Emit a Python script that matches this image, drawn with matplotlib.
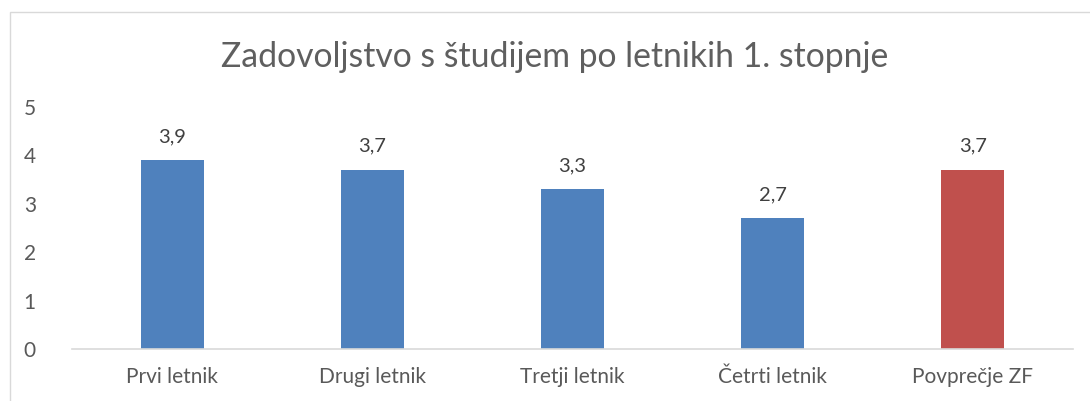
import matplotlib
matplotlib.use('Agg')
import matplotlib.pyplot as plt
from matplotlib.patches import Rectangle

kategorije = ['Prvi letnik', 'Drugi letnik', 'Tretji letnik', 'Četrti letnik', 'Povprečje ZF']
vrednosti = [3.9, 3.7, 3.3, 2.7, 3.7]
barve = ['#4F81BD', '#4F81BD', '#4F81BD', '#4F81BD', '#C0504D']
naslov = 'Zadovoljstvo s študijem po letnikih 1. stopnje'

plt.rcParams['font.family'] = ['Lato', 'DejaVu Sans']

fig = plt.figure(figsize=(10.9, 4.01), dpi=100)
ax = fig.add_axes([72 / 1090, 1 - 349 / 401, (1073 - 72) / 1090, (349 - 107) / 401])

x = range(len(kategorije))
bars = ax.bar(x, vrednosti, width=0.315, color=barve)

# oznake vrednosti nad stolpci
for b, v in zip(bars, vrednosti):
    ax.annotate(f'{v:.1f}'.replace('.', ','), (b.get_x() + b.get_width() / 2, v),
                xytext=(0, 11), textcoords='offset points', ha='center', va='bottom',
                fontsize=14.5, color='#404040')

ax.set_xlim(-0.5, len(kategorije) - 0.5)
ax.set_ylim(0, 5)
ax.set_yticks([0, 1, 2, 3, 4, 5])
ax.set_xticks(list(x))
ax.set_xticklabels(kategorije)
ax.tick_params(axis='both', length=0, labelsize=15, labelcolor='#595959')
ax.tick_params(axis='x', pad=13)
ax.tick_params(axis='y', pad=26)

for s in ['top', 'right', 'left']:
    ax.spines[s].set_visible(False)
ax.spines['bottom'].set_color('#D9D9D9')
ax.spines['bottom'].set_linewidth(1.2)

fig.text(0.5 + 10 / 1090, 1 - 57 / 401, naslov, ha='center', va='center', fontsize=24.3,
         color='#5f5f5f')

# okvir grafikona
fig.patches.append(Rectangle((9.5 / 1090, -0.1), 1.2, 1.1 - 12.5 / 401,
                             transform=fig.transFigure, fill=False,
                             edgecolor='#D9D9D9', linewidth=1))

fig.savefig('out.png', dpi=100)
